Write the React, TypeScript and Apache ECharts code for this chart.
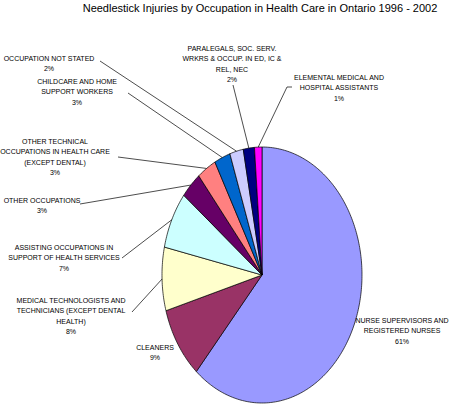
import {useEffect, useRef} from 'react';
import * as echarts from 'echarts';

// slices in Excel order, clockwise from 12 o'clock
const occupations = [
    'NURSE SUPERVISORS AND\nREGISTERED NURSES',
    'CLEANERS',
    'MEDICAL TECHNOLOGISTS AND\nTECHNICIANS (EXCEPT DENTAL\nHEALTH)',
    'ASSISTING OCCUPATIONS IN\nSUPPORT OF HEALTH SERVICES',
    'OTHER OCCUPATIONS',
    'OTHER TECHNICAL\nOCCUPATIONS IN HEALTH CARE\n(EXCEPT DENTAL)',
    'CHILDCARE AND HOME\nSUPPORT WORKERS',
    'OCCUPATION NOT STATED',
    'PARALEGALS, SOC. SERV.\nWRKRS & OCCUP. IN ED, IC &\nREL, NEC',
    'ELEMENTAL MEDICAL AND\nHOSPITAL ASSISTANTS'
];
const shares = [61.4, 9.1, 8.0, 7.2, 3.4, 3.1, 2.6, 2.2, 1.8, 1.2];
const colors = ['#9999FF', '#993366', '#FFFFCC', '#CCFFFF', '#660066', '#FF8080', '#0066CC', '#CCCCFF', '#000080', '#FF00FF'];

const TITLE = 'Needlestick Injuries by Occupation in Health Care in Ontario 1996 - 2002';

// label layout (text block centre x / top y) and leader line start points
const labelBoxes: [number, number][] = [
    [402, 315], [155, 342], [71, 295], [64, 242], [42, 195],
    [55, 136], [77, 76], [49, 53], [232, 43], [339, 72]
];
const leaderStarts: ([number, number][] | null)[] = [
    null, null, [[132, 312]], [[122, 258]], [[80, 204]],
    [[118, 157]], [[128, 93]], [[100, 61]], [[233, 85]], [[292, 87], [287, 87]]
];

const CX = 262, CY = 275, RX = 100, RY = 128;
const FONT = '"Liberation Sans", Arial, sans-serif';

const total = shares.reduce((a, b) => a + b, 0);
const starts: number[] = [];
shares.reduce((acc, v, i) => { starts[i] = acc; return acc + v; }, 0);

const pt = (deg: number): [number, number] => {
    const a = deg * Math.PI / 180;
    return [CX + RX * Math.sin(a), CY - RY * Math.cos(a)];
};

const renderItem = (params: any, api: any) => {
    const i = params.dataIndex;
    const v = api.value(0);
    const a0 = starts[i] / total * 360;
    const a1 = a0 + v / total * 360;
    const pts: [number, number][] = [[CX, CY]];
    const steps = Math.max(2, Math.ceil(a1 - a0));
    for (let k = 0; k <= steps; k++) pts.push(pt(a0 + (a1 - a0) * k / steps));

    const children: any[] = [{
        type: 'polygon',
        shape: {points: pts},
        style: {fill: colors[i], stroke: '#000', lineWidth: 0.7}
    }];

    const s = leaderStarts[i];
    if (s) {
        children.push({
            type: 'polyline',
            shape: {points: [...s, pt((a0 + a1) / 2)]},
            style: {stroke: '#000', lineWidth: 0.7, fill: null}
        });
    }

    const [lx, ly] = labelBoxes[i];
    children.push({
        type: 'text',
        x: lx, y: ly,
        style: {
            text: occupations[i] + '\n' + Math.round(v / total * 100) + '%',
            font: '7px ' + FONT,
            fill: '#000',
            align: 'center', verticalAlign: 'top',
            textAlign: 'center', textVerticalAlign: 'top',
            lineHeight: 10.5
        }
    });
    return {type: 'group', children};
};

export default function App() {
    const ref = useRef<HTMLDivElement | null>(null);

    useEffect(() => {
        document.body.style.margin = '0';
        if (!ref.current) return;
        const chart = echarts.init(ref.current, undefined, {renderer: 'svg'});
        chart.setOption({
            animation: false,
            backgroundColor: '#fff',
            graphic: [{
                type: 'text', x: 260, y: 2,
                style: {
                    text: TITLE, font: '11px ' + FONT, fill: '#000',
                    align: 'center', verticalAlign: 'top',
                    textAlign: 'center', textVerticalAlign: 'top'
                }
            }],
            series: [{
                type: 'custom',
                coordinateSystem: 'none',
                data: shares.map((v, i) => ({value: v, name: occupations[i]})),
                renderItem
            }]
        });
        return () => chart.dispose();
    }, []);

    return <div ref={ref} style={{width: 450, height: 416}}/>;
}
